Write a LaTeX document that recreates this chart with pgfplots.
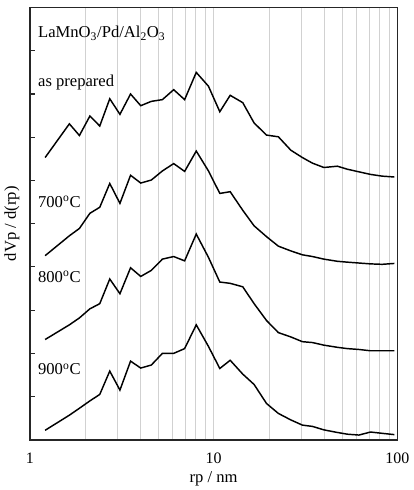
\documentclass[border=0pt]{standalone}
\usepackage{fontspec}
\setmainfont{Liberation Serif}
\usepackage{pgfplots}
\usepackage{pgfplotstable}
\pgfplotsset{compat=1.18}
\pgfplotstableread{
x      a     b     c     d
1.21  6.53  4.26  2.32  0.22
1.64  7.31  4.72  2.66  0.57
1.86  7.04  4.89  2.82  0.73
2.12  7.49  5.24  3.03  0.90
2.40  7.26  5.38  3.15  1.05
2.72  7.89  5.93  3.72  1.59
3.09  7.53  5.47  3.38  1.15
3.53  8.00  6.12  3.98  1.82
4.01  7.73  5.94  3.78  1.66
4.58  7.83  6.01  3.92  1.73
5.26  7.87  6.22  4.18  2.00
6.06  8.10  6.39  4.24  2.00
6.95  7.87  6.21  4.14  2.11
8.04  8.50  6.68  4.76  2.66
9.37  8.18  6.22  4.22  2.16
10.8  7.59  5.70  3.65  1.65
12.3  7.97  5.74  3.62  1.84
14.4  7.80  5.31  3.54  1.52
16.6  7.33  4.95  3.15  1.28
19.4  7.05  4.70  2.76  0.84
22.5  7.01  4.48  2.48  0.61
26.3  6.70  4.37  2.38  0.46
30.4  6.53  4.28  2.27  0.34
34.5  6.40  4.24  2.25  0.31
39.8  6.30  4.18  2.19  0.23
47.1  6.33  4.13  2.14  0.17
53.4  6.26  4.11  2.11  0.13
61.7  6.20  4.09  2.09  0.11
71.4  6.14  4.07  2.06  0.18
82.6  6.10  4.06  2.06  0.15
96.3  6.08  4.08  2.06  0.12
}\datatable
\begin{document}
\begin{tikzpicture}
\begin{axis}[
  scale only axis,
  width=276.75pt, height=325.5pt,
  xmode=log, xmin=1, xmax=100,
  ymin=0, ymax=10,
  xtick={1,10,100},
  xticklabels={1,10,100},
  minor xtick={2,3,4,5,6,7,8,9,20,30,40,50,60,70,80,90},
  xmajorgrids, xminorgrids,
  grid style={draw=black!18, line width=0.6pt},
  xtick style={black!18, line width=0.6pt},
  ytick={1,2,3,4,5,6,7,8,9},
  yticklabels={},
  ytick pos=left,
  ytick style={black!85, line width=0.8pt},
  tick align=inside,
  major tick length=4pt,
  axis line style={black!85, line width=1.1pt},
  clip=false,
  /pgf/number format/assume math mode=true,
  tick label style={font=\fontsize{12}{14}\selectfont},
  xticklabel style={anchor=base, yshift=-17.5pt},
  xlabel={rp / nm},
  ylabel={dVp / d(rp)},
  label style={font=\fontsize{12.5}{14}\selectfont},
  xlabel style={at={(axis description cs:0.5,0)}, anchor=base, yshift=-31.8pt},
  ylabel style={at={(axis description cs:-0.038,0.5)}, anchor=base},
]
\addplot[black, line width=1.1pt] table[x=x, y=a] {\datatable};
\addplot[black, line width=1.1pt] table[x=x, y=b] {\datatable};
\addplot[black, line width=1.1pt] table[x=x, y=c] {\datatable};
\addplot[black, line width=1.1pt] table[x=x, y=d] {\datatable};
\draw[black!85, line width=1.1pt] (rel axis cs:0,0) rectangle (rel axis cs:1,1);
\node[anchor=base west, inner sep=0pt, font=\fontsize{12.5}{14}\selectfont] at (axis cs:1.105,9.30) {LaMnO\textsubscript{3}/Pd/Al\textsubscript{2}O\textsubscript{3}};
\node[anchor=base west, inner sep=0pt, font=\fontsize{12.5}{14}\selectfont] at (axis cs:1.105,8.18) {as prepared};
\node[anchor=base west, inner sep=0pt, font=\fontsize{12.5}{14}\selectfont] at (axis cs:1.105,5.38) {700\textsuperscript{o}C};
\node[anchor=base west, inner sep=0pt, font=\fontsize{12.5}{14}\selectfont] at (axis cs:1.105,3.65) {800\textsuperscript{o}C};
\node[anchor=base west, inner sep=0pt, font=\fontsize{12.5}{14}\selectfont] at (axis cs:1.105,1.50) {900\textsuperscript{o}C};
\end{axis}
\path ([xshift=-21pt,yshift=-36.3pt]current axis.south west) rectangle ([xshift=6.75pt,yshift=5.7pt]current axis.north east);
\end{tikzpicture}
\end{document}
